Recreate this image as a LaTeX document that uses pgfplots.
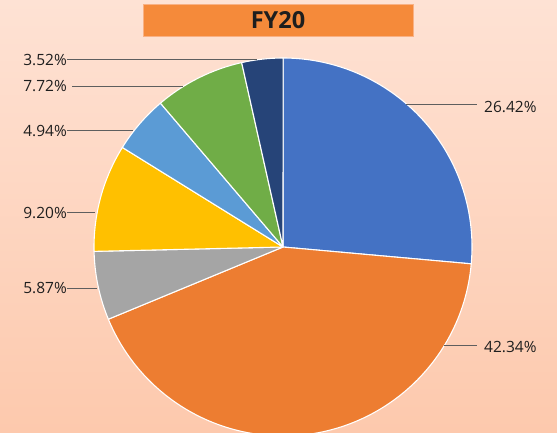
\documentclass[border=0pt]{standalone}
\usepackage{pgfplots}
\usepackage{pgfplotstable}
\pgfplotsset{compat=1.18}
\usepackage{fontspec}
\setmainfont{Open Sans}
\definecolor{s1}{HTML}{4472C4}
\definecolor{s2}{HTML}{ED7D31}
\definecolor{s3}{HTML}{A5A5A5}
\definecolor{s4}{HTML}{FFC000}
\definecolor{s5}{HTML}{5B9BD5}
\definecolor{s6}{HTML}{70AD47}
\definecolor{s7}{HTML}{264478}
\definecolor{bgtop}{HTML}{FEE2D4}
\definecolor{bgbot}{HTML}{FDC9AD}
\definecolor{titlefill}{HTML}{F58A3A}
\definecolor{titleedge}{HTML}{F9B184}
\definecolor{txt}{HTML}{1E1E1E}
\definecolor{lead}{HTML}{5E5E5E}

% share (%) and slice colour, clockwise from 12 o'clock
\pgfplotstableread{
value col
26.42 s1
42.34 s2
5.87  s3
9.20  s4
4.94  s5
7.72  s6
3.52  s7
}\piedata

\def\cx{283}\def\cy{185}\def\rad{189}

\begin{document}
\begin{tikzpicture}
\begin{axis}[
  scale only axis, width=557pt, height=432pt,
  xmin=0, xmax=557, ymin=0, ymax=432,
  axis lines=none, xtick=\empty, ytick=\empty,
  axis background/.style={top color=bgtop, bottom color=bgbot},
  clip=true,
]
\gdef\cum{0}
\pgfplotstableforeachcolumnelement{value}\of\piedata\as\v{%
  \pgfplotstablegetelem{\pgfplotstablerow}{col}\of\piedata
  \let\c\pgfplotsretval
  \pgfmathsetmacro\sa{90-3.6*\cum}%
  \pgfmathsetmacro\ea{90-3.6*(\cum+\v)}%
  \pgfmathsetmacro\sx{\cx+\rad*cos(\sa)}%
  \pgfmathsetmacro\sy{\cy+\rad*sin(\sa)}%
  \edef\next{\noexpand\filldraw[fill=\c, draw=white, line width=1.1pt, line join=round]
     (axis cs:\cx,\cy) -- (axis cs:\sx,\sy) arc[start angle=\sa, end angle=\ea, radius=\rad pt] -- cycle;}%
  \next
  \pgfmathsetmacro\newcum{\cum+\v}%
  \xdef\cum{\newcum}%
}

% leader lines
\addplot[lead, line width=0.8pt, no marks] coordinates {(67,373) (257,373)};
\addplot[lead, line width=0.8pt, no marks] coordinates {(72,346) (183,346)};
\addplot[lead, line width=0.8pt, no marks] coordinates {(67,301.5) (133,301.5)};
\addplot[lead, line width=0.8pt, no marks] coordinates {(67,220) (95,220)};
\addplot[lead, line width=0.8pt, no marks] coordinates {(67,144) (97,144)};
\addplot[lead, line width=0.8pt, no marks] coordinates {(406,327.3) (477,327.3)};
\addplot[lead, line width=0.8pt, no marks] coordinates {(444,86.3) (477,86.3)};

% labels
\begin{scope}[every node/.style={font=\fontsize{15.5}{18}\selectfont, text=txt, inner sep=0pt}]
\node[anchor=east] at (axis cs:67,372) {3.52\%};
\node[anchor=east] at (axis cs:67,346) {7.72\%};
\node[anchor=east] at (axis cs:67,301.5) {4.94\%};
\node[anchor=east] at (axis cs:67,219.5) {9.20\%};
\node[anchor=east] at (axis cs:67,144) {5.87\%};
\node[anchor=west] at (axis cs:484,325.5) {26.42\%};
\node[anchor=west] at (axis cs:484,85.5) {42.34\%};
\end{scope}

% title
\node[fill=titlefill, draw=titleedge, line width=0.8pt, minimum width=270pt, minimum height=32pt,
      inner sep=0pt, text=txt, font=\fontsize{23.5}{26}\selectfont\bfseries]
  at (axis cs:278,412) {FY20};
\end{axis}
\end{tikzpicture}
\end{document}
